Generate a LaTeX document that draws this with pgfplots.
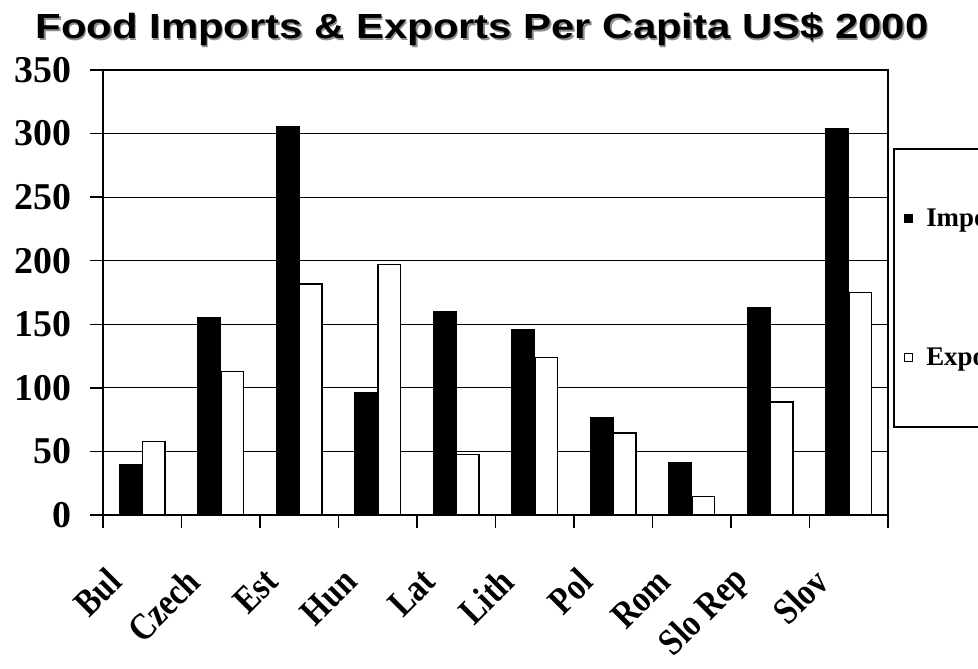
\documentclass[border=0pt]{standalone}
\usepackage{fontspec}
\setmainfont{Liberation Serif}
\newfontfamily\titlefont[FakeStretch=1.2]{Liberation Sans}
\newfontfamily\condfont[FakeStretch=0.85]{Liberation Serif}
\usepackage{pgfplots}
\pgfplotsset{compat=1.18}
\begin{document}
\begin{tikzpicture}
\begin{axis}[
  at={(103bp,154bp)}, anchor=south west,
  scale only axis, width=785bp, height=445bp,
  xmin=-0.5, xmax=9.5, ymin=0, ymax=350,
  ybar=0pt, bar width=0.29,
  axis line style={line width=1.8bp},
  ytick={0,50,...,350},
  ymajorgrids, grid style={black, line width=0.9bp},
  xtick={-0.5,0.5,...,9.5}, xticklabels={},
  extra x ticks={0,1,...,9},
  extra x tick labels={Bul,Czech,Est,Hun,Lat,Lith,Pol,Rom,Slo Rep,Slov},
  extra x tick style={grid=none, tick style={draw=none}},
  tick pos=left,
  tick align=outside, major tick length=13bp,
  tick style={black, line width=1.5bp},
  /pgf/number format/assume math mode=true,
  yticklabel style={font=\fontsize{38}{40}\selectfont\bfseries, xshift=-15bp},
  xticklabel style={font=\condfont\fontsize{38}{40}\selectfont\bfseries, xshift=-25bp, yshift=-45bp, rotate=45, anchor=east},
  legend style={at={(axis description cs:1.0064,0.8247)}, anchor=north west, draw=black, line width=1.5bp, font=\fontsize{27}{29}\selectfont\bfseries, inner xsep=10bp, inner ysep=58bp, row sep=116bp},
  legend cell align=left,
  clip=false,
]
\addplot[fill=black, draw=black, line width=1bp,
  legend image code/.code={\draw[fill=black, draw=black, line width=1bp] (0bp,-4bp) rectangle (8bp,4bp); \path[draw=none, fill=none] (0bp,0bp) -- (20bp,0bp);}]
  coordinates {(0,40) (1,155.5) (2,305.5) (3,96) (4,160) (5,146) (6,77) (7,41) (8,163) (9,304)};
\addlegendentry{Imports}
\addplot[fill=white, draw=black, line width=1.5bp,
  legend image code/.code={\draw[fill=white, draw=black, line width=1bp] (0bp,-4bp) rectangle (8bp,4bp); \path[draw=none, fill=none] (0bp,0bp) -- (20bp,0bp);}]
  coordinates {(0,58) (1,113) (2,181.5) (3,197) (4,47.5) (5,124) (6,64.5) (7,14.5) (8,89) (9,175)};
\addlegendentry{Exports}
\end{axis}
\node[anchor=base, text=black!45, font=\titlefont\fontsize{35}{38}\selectfont\bfseries] at (483.5bp,628.5bp) {Food Imports \& Exports Per Capita US\$ 2000};
\node[anchor=base, font=\titlefont\fontsize{35}{38}\selectfont\bfseries] at (482bp,630bp) {Food Imports \& Exports Per Capita US\$ 2000};
\pgfresetboundingbox
\useasboundingbox (0,0) rectangle (978bp,669bp);
\end{tikzpicture}
\end{document}
